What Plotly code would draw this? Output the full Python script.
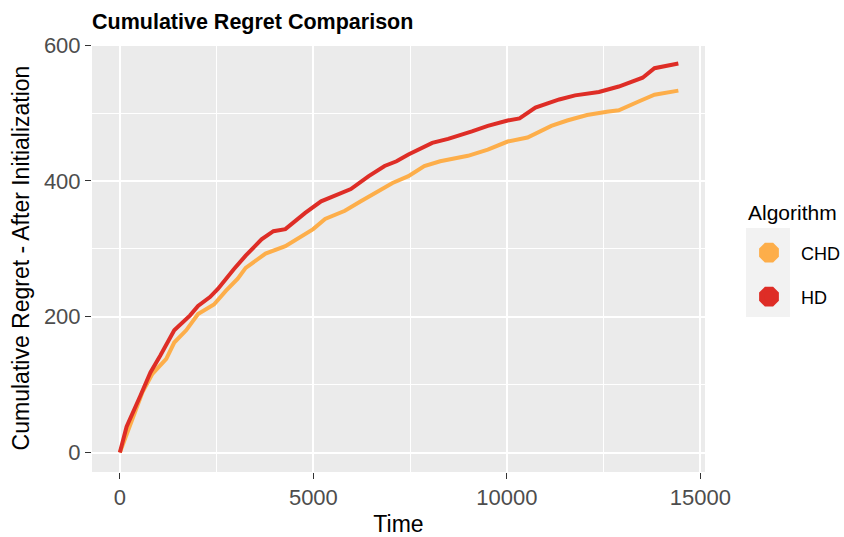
import plotly.graph_objects as go

# Data
hd_time = [0, 174, 533, 790, 1046, 1405, 1815, 2020, 2328, 2533, 2944, 3251, 3661, 3969, 4277,
           4790, 5200, 5610, 5969, 6431, 6841, 7149, 7456, 8072, 8482, 9097, 9508, 10021, 10328,
           10738, 11354, 11764, 12379, 12892, 13508, 13815, 14431]
hd_regret = [0, 38, 84, 118, 143, 180, 202, 216, 229, 241, 270, 290, 314, 326, 329,
             353, 370, 380, 388, 407, 422, 429, 439, 456, 462, 473, 481, 489, 492,
             508, 520, 526, 531, 539, 552, 566, 573]

chd_time = [0, 585, 841, 1200, 1405, 1713, 2020, 2431, 2738, 3046, 3251, 3764, 4277, 4687, 4995,
            5303, 5815, 6226, 6636, 7046, 7456, 7867, 8277, 8995, 9508, 10021, 10533, 11149,
            11559, 12072, 12585, 12892, 13405, 13815, 14431]
chd_regret = [0, 89, 116, 138, 162, 180, 204, 218, 238, 256, 272, 293, 304, 319, 329,
              344, 356, 370, 383, 397, 407, 422, 429, 437, 446, 458, 464, 481,
              489, 497, 502, 504, 517, 527, 533]

algorithms = ["CHD", "HD"]
colors = {"CHD": "#FDAE4A", "HD": "#DE2D26"}

x_ticks = [0, 5000, 10000, 15000]
y_ticks = [0, 200, 400, 600]

L, R, T, B = 92, 139, 44, 65
W, H = 844, 537
pw = W - L - R
ph = H - T - B


def px_x(p):
    return (p - L) / pw


def px_y(p):
    return (H - B - p) / ph


fig = go.Figure()
fig.add_trace(go.Scatter(x=chd_time, y=chd_regret, mode="lines",
                         line=dict(color=colors["CHD"], width=4),
                         showlegend=False, hoverinfo="skip"))
fig.add_trace(go.Scatter(x=hd_time, y=hd_regret, mode="lines",
                         line=dict(color=colors["HD"], width=4),
                         showlegend=False, hoverinfo="skip"))

legend_names = {"CHD": "legend", "HD": "legend2"}
for a in algorithms:
    fig.add_trace(go.Scatter(x=[None], y=[None], mode="markers", name=a,
                             legend=legend_names[a],
                             marker=dict(color=colors[a], size=16, symbol="octagon",
                                         line=dict(color=colors[a], width=5))))

# legend key background (ggplot style)
fig.add_shape(type="rect", xref="paper", yref="paper",
              x0=px_x(746), x1=px_x(790), y0=px_y(317), y1=px_y(228),
              fillcolor="#F2F2F2", line=dict(width=0), layer="below")

fig.add_annotation(text="Algorithm", xref="paper", yref="paper",
                   x=px_x(746), y=px_y(212), xanchor="left", yanchor="middle",
                   showarrow=False, font=dict(size=21, color="black"))

legend_common = dict(xanchor="left", yanchor="middle", bgcolor="rgba(0,0,0,0)",
                     font=dict(size=18, color="black"), itemwidth=54,
                     x=px_x(737))

fig.update_layout(
    width=W, height=H,
    margin=dict(l=L, r=R, t=T, b=B, autoexpand=False),
    paper_bgcolor="white", plot_bgcolor="#EBEBEB",
    font=dict(family="Liberation Sans, Arial, sans-serif", color="#1A1A1A"),
    title=dict(text="<b>Cumulative Regret Comparison</b>", x=92 / W, xanchor="left",
               xref="container", yref="container",
               y=1 - 21 / H, yanchor="middle", font=dict(size=21.5, color="black")),
    xaxis=dict(range=[-720, 15120], tickvals=x_ticks, ticktext=[str(v) for v in x_ticks],
               showgrid=True, gridcolor="white", gridwidth=1.8, zeroline=False,
               ticks="outside", ticklen=6, tickwidth=1.2, tickcolor="#333333",
               tickfont=dict(size=22, color="#4D4D4D"), automargin=False,
               title=dict(text="Time", font=dict(size=23, color="black"), standoff=7),
               minor=dict(tickvals=[2500, 7500, 12500], showgrid=True, gridcolor="white",
                          gridwidth=0.9, ticks="")),
    yaxis=dict(range=[-28.65, 601.65], tickvals=y_ticks, ticktext=[str(v) for v in y_ticks],
               showgrid=True, gridcolor="white", gridwidth=1.8, zeroline=False,
               ticks="outside", ticklen=6, tickwidth=1.2, tickcolor="#333333",
               tickfont=dict(size=22, color="#4D4D4D"), automargin=False,
               title=dict(text="Cumulative Regret - After Initialization",
                          font=dict(size=23, color="black"), standoff=7),
               minor=dict(tickvals=[100, 300, 500], showgrid=True, gridcolor="white",
                          gridwidth=0.9, ticks="")),
    legend=dict(y=px_y(253), **legend_common),
    legend2=dict(y=px_y(297), **legend_common),
)

fig.write_html("out.html", config={"displayModeBar": False},
               post_script="document.body.style.margin='0';document.body.style.overflow='hidden';")
